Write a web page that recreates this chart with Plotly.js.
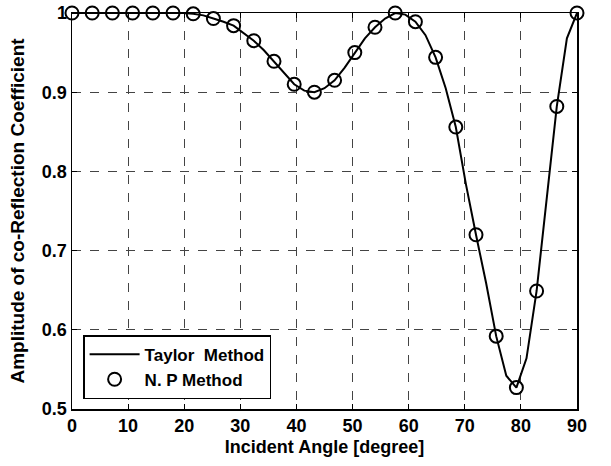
<!DOCTYPE html>
<html>
<head>
<meta charset="utf-8">
<script src="https://cdn.plot.ly/plotly-3.0.1.min.js"></script>
<style>html,body{margin:0;padding:0;background:#fff;}#chart{width:611px;height:466px;}</style>
</head>
<body>
<div id="chart"></div>
<script>
// N.P Method samples (every 3.6 degrees)
const npAngles = [0, 3.6, 7.2, 10.8, 14.4, 18, 21.6, 25.2, 28.8, 32.4, 36, 39.6, 43.2, 46.8, 50.4, 54, 57.6, 61.2, 64.8, 68.4, 72, 75.6, 79.2, 82.8, 86.4, 90];
const npValues = [1.0, 1.0, 1.0, 1.0, 1.0, 1.0, 0.999, 0.993, 0.984, 0.965, 0.939, 0.910, 0.900, 0.915, 0.950, 0.982, 1.000, 0.989, 0.944, 0.856, 0.720, 0.592, 0.527, 0.649, 0.882, 1.000];

// Taylor Method samples (every 1.8 degrees)
const taylorAngles = [0, 1.8, 3.6, 5.4, 7.2, 9, 10.8, 12.6, 14.4, 16.2, 18, 19.8, 21.6, 23.4, 25.2, 27, 28.8, 30.6, 32.4, 34.2, 36, 37.8, 39.6, 41.4, 43.2, 45, 46.8, 48.6, 50.4, 52.2, 54, 55.8, 57.6, 59.4, 61.2, 63, 64.8, 66.6, 68.4, 70.2, 72, 73.8, 75.6, 77.4, 79.2, 81, 82.8, 84.6, 86.4, 88.2, 90];
const taylorValues = [1.0, 1.0, 1.0, 1.0, 1.0, 1.0, 1.0, 1.0, 1.0, 1.0, 1.0, 1.0, 0.999, 0.997, 0.993, 0.989, 0.984, 0.975, 0.965, 0.953, 0.939, 0.924, 0.910, 0.902, 0.900, 0.905, 0.915, 0.931, 0.950, 0.968, 0.982, 0.993, 1.000, 0.998, 0.989, 0.972, 0.944, 0.905, 0.856, 0.784, 0.720, 0.659, 0.592, 0.542, 0.527, 0.564, 0.649, 0.770, 0.882, 0.968, 1.000];

const xTicks = [0, 10, 20, 30, 40, 50, 60, 70, 80, 90];
const yTicks = [0.5, 0.6, 0.7, 0.8, 0.9, 1];
const yTickText = ['0.5', '0.6', '0.7', '0.8', '0.9', '1'];

const fontFam = '"Liberation Sans", Arial, sans-serif';

const traces = [
  {
    x: taylorAngles, y: taylorValues, type: 'scatter', mode: 'lines',
    name: 'Taylor  Method',
    line: {color: '#000', width: 2},
    cliponaxis: false
  },
  {
    x: npAngles, y: npValues, type: 'scatter', mode: 'markers',
    name: 'N. P Method',
    marker: {symbol: 'circle-open', size: 13, color: '#000', line: {width: 2, color: '#000'}},
    cliponaxis: false
  }
];

const axisCommon = {
  showline: true, linecolor: '#000', linewidth: 1.5, mirror: 'ticks',
  ticks: 'inside', ticklen: 5, tickcolor: '#000', tickwidth: 1,
  showgrid: true, gridcolor: '#444', griddash: 'dash', gridwidth: 1,
  zeroline: false,
  tickfont: {family: fontFam, size: 18, color: '#000', weight: 'bold'}
};

const layout = {
  width: 611, height: 466,
  margin: {l: 72, r: 34, t: 13, b: 57},
  paper_bgcolor: '#fff', plot_bgcolor: '#fff',
  showlegend: true,
  font: {family: fontFam, color: '#000'},
  xaxis: Object.assign({}, axisCommon, {
    range: [0, 90], tickvals: xTicks, ticktext: xTicks.map(String),
    title: {text: 'Incident Angle [degree]', font: {family: fontFam, size: 18, color: '#000', weight: 'bold'}, standoff: 5}
  }),
  yaxis: Object.assign({}, axisCommon, {
    range: [0.5, 1], tickvals: yTicks, ticktext: yTickText,
    title: {text: 'Amplitude of co-Reflection Coefficient', font: {family: fontFam, size: 19, color: '#000', weight: 'bold'}, standoff: 12}
  }),
  legend: {
    x: 0.022, y: 0.025, xanchor: 'left', yanchor: 'bottom',
    bgcolor: '#fff', bordercolor: '#000', borderwidth: 1.5,
    font: {family: fontFam, size: 17, color: '#000', weight: 'bold'},
    itemwidth: 50,
    tracegroupgap: 0
  }
};

Plotly.newPlot('chart', traces, layout, {displayModeBar: false, staticPlot: true});
</script>
</body>
</html>
